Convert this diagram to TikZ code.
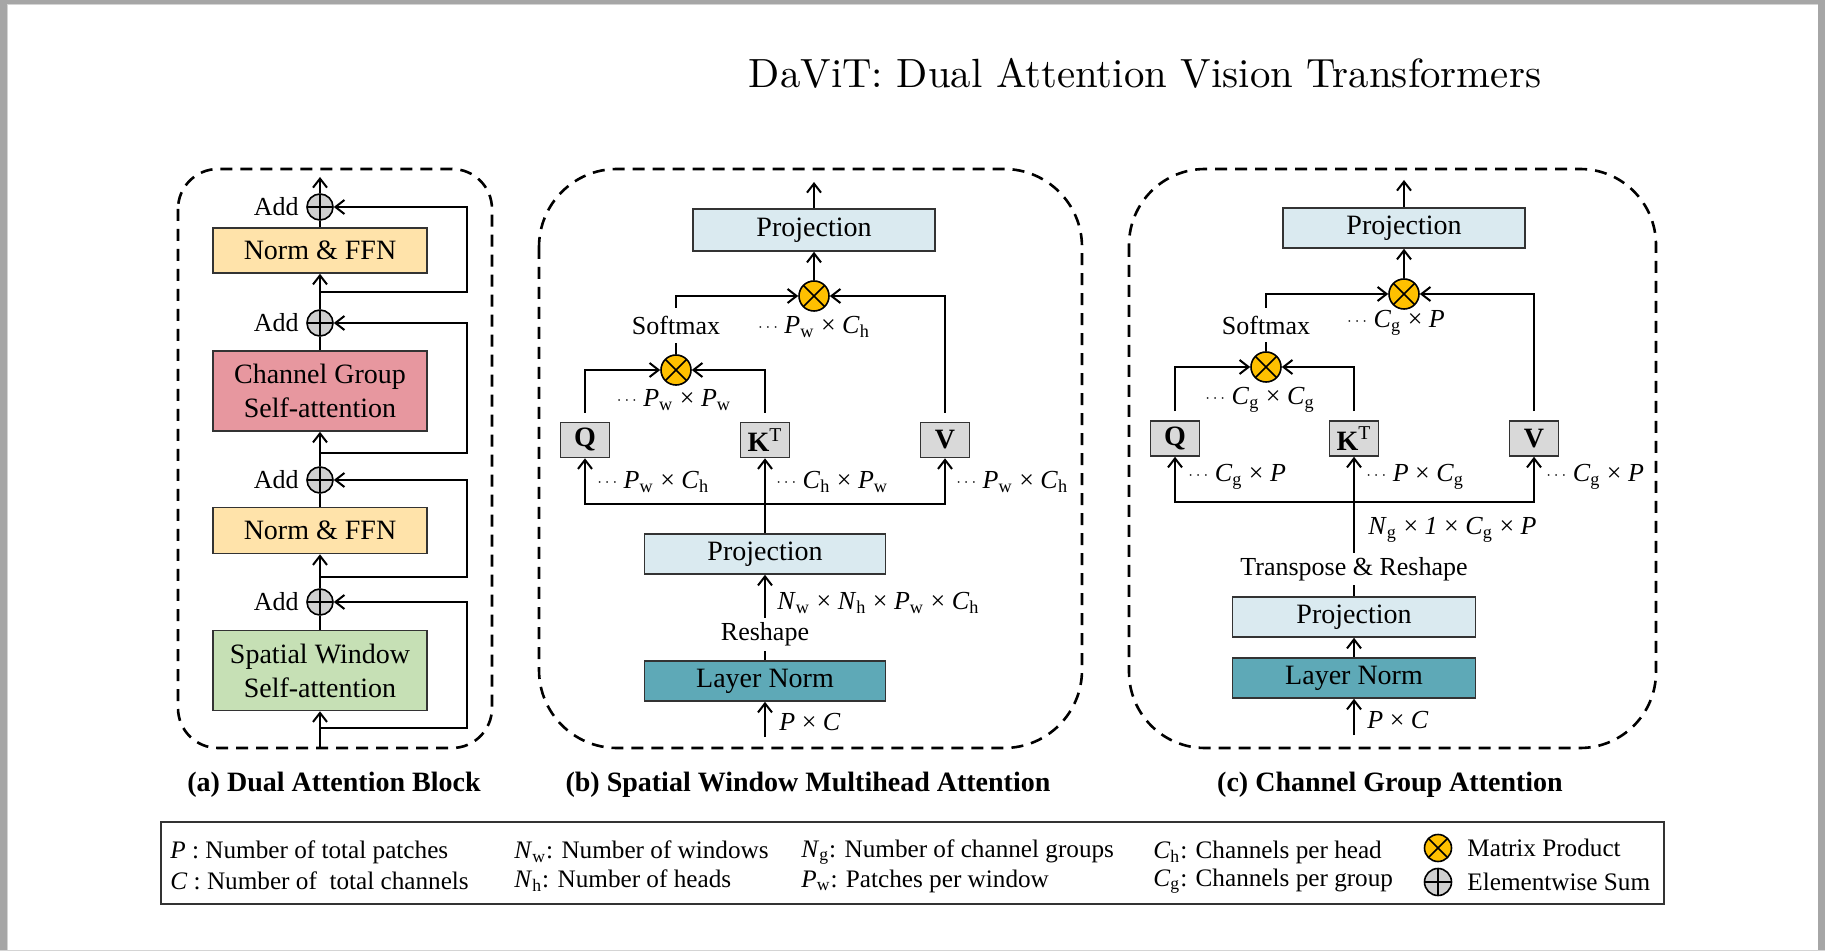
\documentclass[tikz,border=0pt]{standalone}
\usepackage{fontspec}
\setmainfont{Liberation Serif}
\newfontfamily\titlefont{lmroman10-regular.otf}
\usetikzlibrary{arrows.meta}

\definecolor{ffnfill}{HTML}{FFE3AA}
\definecolor{cgfill}{HTML}{E7979F}
\definecolor{swfill}{HTML}{C6E0B5}
\definecolor{projfill}{HTML}{DAEAF0}
\definecolor{lnfill}{HTML}{5EA9B7}
\definecolor{qkvfill}{HTML}{D9D9D9}
\definecolor{mulfill}{HTML}{FFC000}
\definecolor{addfill}{HTML}{D0D0D0}
\definecolor{edgegray}{HTML}{333333}
\definecolor{framegray}{HTML}{A6A6A6}
\definecolor{framelight}{HTML}{D4D4D4}

% variable with upright subscript, e.g. P_w
\newcommand{\mv}[2]{\textit{#1}\textsubscript{#2}}
% small centred ellipsis in front of a shape
\newcommand{\dd}{\raisebox{1pt}{\fontsize{8}{8}\selectfont$\cdots$}}

\begin{document}
\begin{tikzpicture}[x=0.5pt,y=-0.5pt,
  wire/.style={line width=1pt, draw=black},
  arrw/.style={wire, -{Straight Barb[length=4.5pt,width=7pt,line width=1pt]}},
  blockbox/.style={draw=edgegray, line width=0.8pt, inner sep=0pt, align=center,
    font=\fontsize{14}{17}\selectfont},
  qkv/.style={draw=edgegray, line width=0.8pt, fill=qkvfill, inner sep=0pt,
    minimum width=24.5pt, minimum height=17.5pt, font=\bfseries\fontsize{14}{17}\selectfont},
  mulop/.style={circle, draw=black, line width=0.8pt, fill=mulfill, minimum size=15pt, inner sep=0pt,
    path picture={\draw[line width=0.8pt]
      (path picture bounding box.north west) -- (path picture bounding box.south east)
      (path picture bounding box.north east) -- (path picture bounding box.south west);}},
  addop/.style={circle, draw=black, line width=0.8pt, fill=addfill, minimum size=13pt, inner sep=0pt,
    path picture={\draw[line width=0.8pt]
      (path picture bounding box.north) -- (path picture bounding box.south)
      (path picture bounding box.west) -- (path picture bounding box.east);}},
  opl/.style={inner sep=0pt, font=\fontsize{13}{15}\selectfont},
  dimtxt/.style={inner sep=0pt, font=\fontsize{13}{16}\selectfont},
  captxt/.style={inner sep=0pt, font=\bfseries\fontsize{14}{17}\selectfont},
  legtxt/.style={inner sep=0pt, anchor=west, font=\fontsize{12.6}{15}\selectfont},
  dbox/.style={line width=1.3pt, dash pattern=on 6pt off 4pt},
]
\useasboundingbox (0,0) rectangle (1825,951);

% page frame
\fill[framegray] (0,0) rectangle (1825,4);
\fill[framegray] (0,0) rectangle (7,951);
\fill[framegray] (1818,0) rectangle (1825,951);
\fill[framelight] (7,4) rectangle (1818,5);
\fill[framelight] (7,4) rectangle (8,951);
\fill[framelight] (0,949.5) rectangle (1825,951);

% title
\node[font=\titlefont\fontsize{20.4}{24}\selectfont, anchor=base, inner sep=0pt] (title) at (1145,88)
  {DaViT: Dual Attention Vision Transformers};

% ---------------- (a) Dual Attention Block ----------------
\draw[dbox, rounded corners=20pt] (178,169) rectangle (492,748);
\node[blockbox, fill=ffnfill, minimum width=107pt, minimum height=22.5pt] (ffnA) at (320,250.5) {Norm \& FFN};
\node[blockbox, fill=cgfill, minimum width=107pt, minimum height=40pt] (cgA) at (320,391) {Channel Group\\Self-attention};
\node[blockbox, fill=ffnfill, minimum width=107pt, minimum height=23pt] (ffnB) at (320,530.5) {Norm \& FFN};
\node[blockbox, fill=swfill, minimum width=107pt, minimum height=40pt] (swA) at (320,670.5) {Spatial Window\\Self-attention};
\node[addop] (add1) at (320,207) {};
\node[addop] (add2) at (320,323) {};
\node[addop] (add3) at (320,480) {};
\node[addop] (add4) at (320,602) {};
\node[opl, anchor=east] (addl1) at (299,207) {Add};
\node[opl, anchor=east] (addl2) at (299,323) {Add};
\node[opl, anchor=east] (addl3) at (299,480) {Add};
\node[opl, anchor=east] (addl4) at (299,602) {Add};
\coordinate (inA) at (320,748);
\coordinate (outA) at (320,177);
\coordinate (tapA1) at (320,292);
\coordinate (tapA2) at (320,453);
\coordinate (tapA3) at (320,577);
\coordinate (tapA4) at (320,728);
\draw[arrw] (inA) -- (swA.south);
\draw[wire] (swA.north) -- (add4.south);
\draw[arrw] (add4.north) -- (ffnB.south);
\draw[wire] (ffnB.north) -- (add3.south);
\draw[arrw] (add3.north) -- (cgA.south);
\draw[wire] (cgA.north) -- (add2.south);
\draw[arrw] (add2.north) -- (ffnA.south);
\draw[wire] (ffnA.north) -- (add1.south);
\draw[arrw] (add1.north) -- (outA);
\draw[arrw] (tapA4) -- ++(147,0) |- (add4.east);
\draw[arrw] (tapA3) -- ++(147,0) |- (add3.east);
\draw[arrw] (tapA2) -- ++(147,0) |- (add2.east);
\draw[arrw] (tapA1) -- ++(147,0) |- (add1.east);
\node[captxt] (capA) at (334,785) {(a) Dual Attention Block};

% ---------------- (b) Spatial Window Multihead Attention ----------------
\draw[dbox, rounded corners=39pt] (539,169) rectangle (1082,748);
\node[blockbox, fill=projfill, minimum width=121pt, minimum height=21pt] (projB1) at (814,230) {Projection};
\coordinate (outB) at (814,182);
\node[mulop] (mB1) at (814,296) {};
\node[dimtxt] (dB1) at (814,327) {\dd\ \mv{P}{w} × \mv{C}{h}};
\node[opl, minimum height=17.5pt] (smB) at (676,325.5) {Softmax};
\node[mulop] (mB2) at (676,370) {};
\node[dimtxt] (dB2) at (674,400) {\dd\ \mv{P}{w} × \mv{P}{w}};
\node[qkv] (qB) at (585,440) {Q};
\node[qkv] (kB) at (765,440) {K\textsuperscript{\mdseries T}};
\node[qkv] (vB) at (945,440) {V};
\draw[arrw, shorten <=4.5pt] (qB.north) |- (mB2.west);
\draw[arrw, shorten <=4.5pt] (kB.north) |- (mB2.east);
\draw[arrw, shorten <=4.5pt] (vB.north) |- (mB1.east);
\draw[wire] (mB2.north) -- (smB.south);
\draw[arrw] (smB.north) |- (mB1.west);
\draw[arrw] (mB1.north) -- (projB1.south);
\draw[arrw] (projB1.north) -- (outB);
\node[blockbox, fill=projfill, minimum width=120.5pt, minimum height=20pt] (projB2) at (765,554) {Projection};
\coordinate (busB) at (765,504);
\draw[arrw] (projB2.north) -- (kB.south);
\draw[arrw] (busB) -| (qB.south);
\draw[arrw] (busB) -| (vB.south);
\node[dimtxt, anchor=west] (dQB) at (597,482) {\dd\ \mv{P}{w} × \mv{C}{h}};
\node[dimtxt, anchor=west] (dKB) at (776,482) {\dd\ \mv{C}{h} × \mv{P}{w}};
\node[dimtxt, anchor=west] (dVB) at (956,482) {\dd\ \mv{P}{w} × \mv{C}{h}};
\node[opl, minimum height=16.5pt] (rsB) at (765,634.5) {Reshape};
\node[blockbox, fill=lnfill, minimum width=120.5pt, minimum height=20pt] (lnB) at (765,681) {Layer Norm};
\draw[wire] (lnB.north) -- (rsB.south);
\draw[arrw] (rsB.north) -- (projB2.south);
\node[dimtxt, anchor=west] (shpB) at (777,603) {\mv{N}{w} × \mv{N}{h} × \mv{P}{w} × \mv{C}{h}};
\coordinate (inB) at (765,737);
\draw[arrw] (inB) -- (lnB.south);
\node[dimtxt, anchor=west] (pcB) at (779,722) {\textit{P} × \textit{C}};
\node[captxt] (capB) at (808,785) {(b) Spatial Window Multihead Attention};

% ---------------- (c) Channel Group Attention ----------------
\draw[dbox, rounded corners=38pt] (1129,169) rectangle (1656,748);
\node[blockbox, fill=projfill, minimum width=121pt, minimum height=20pt] (projC1) at (1404,228) {Projection};
\coordinate (outC) at (1404,180);
\node[mulop] (mC1) at (1404,294) {};
\node[dimtxt] (dC1) at (1396,323) {\dd\ \mv{C}{g} × \textit{P}};
\node[opl, minimum height=17pt] (smC) at (1266,325) {Softmax};
\node[mulop] (mC2) at (1266,367) {};
\node[dimtxt] (dC2) at (1260,400) {\dd\ \mv{C}{g} × \mv{C}{g}};
\node[qkv] (qC) at (1175,438.5) {Q};
\node[qkv] (kC) at (1354,438.5) {K\textsuperscript{\mdseries T}};
\node[qkv] (vC) at (1534,438.5) {V};
\draw[arrw, shorten <=4.5pt] (qC.north) |- (mC2.west);
\draw[arrw, shorten <=4.5pt] (kC.north) |- (mC2.east);
\draw[arrw, shorten <=4.5pt] (vC.north) |- (mC1.east);
\draw[wire] (mC2.north) -- (smC.south);
\draw[arrw] (smC.north) |- (mC1.west);
\draw[arrw] (mC1.north) -- (projC1.south);
\draw[arrw] (projC1.north) -- (outC);
\node[opl, minimum height=16pt] (trC) at (1354,569) {Transpose \& Reshape};
\coordinate (busC) at (1354,502);
\draw[arrw] (trC.north) -- (kC.south);
\draw[arrw] (busC) -| (qC.south);
\draw[arrw] (busC) -| (vC.south);
\node[dimtxt, anchor=west] (dQC) at (1188,477) {\dd\ \mv{C}{g} × \textit{P}};
\node[dimtxt, anchor=west] (dKC) at (1366,477) {\dd\ \textit{P} × \mv{C}{g}};
\node[dimtxt, anchor=west] (dVC) at (1546,477) {\dd\ \mv{C}{g} × \textit{P}};
\node[dimtxt, anchor=west] (shpC) at (1368,530) {\mv{N}{g} × \textit{1} × \mv{C}{g} × \textit{P}};
\node[blockbox, fill=projfill, minimum width=121.5pt, minimum height=20pt] (projC2) at (1354,617) {Projection};
\node[blockbox, fill=lnfill, minimum width=121.5pt, minimum height=20pt] (lnC) at (1354,678) {Layer Norm};
\draw[wire] (projC2.north) -- (trC.south);
\draw[arrw] (lnC.north) -- (projC2.south);
\coordinate (inC) at (1354,735);
\draw[arrw] (inC) -- (lnC.south);
\node[dimtxt, anchor=west] (pcC) at (1367,720) {\textit{P} × \textit{C}};
\node[captxt] (capC) at (1390,785) {(c) Channel Group Attention};

% ---------------- legend ----------------
\draw[line width=0.7pt, draw=edgegray] (161,822) rectangle (1664,904);
\node[legtxt] (lgP) at (170,852) {\textit{P} : Number of total patches};
\node[legtxt] (lgC) at (170,881) {\textit{C} : Number of\ \ total channels};
\node[legtxt] (lgNw) at (514,852) {\mv{N}{w}: Number of windows};
\node[legtxt] (lgNh) at (514,881) {\mv{N}{h}: Number of heads};
\node[legtxt] (lgNg) at (801,852) {\mv{N}{g}: Number of channel groups};
\node[legtxt] (lgPw) at (801,881) {\mv{P}{w}: Patches per window};
\node[legtxt] (lgCh) at (1153,852) {\mv{C}{h}: Channels per head};
\node[legtxt] (lgCg) at (1153,881) {\mv{C}{g}: Channels per group};
\node[mulop, minimum size=13.5pt] (lgMul) at (1438,848) {};
\node[addop, minimum size=13.5pt] (lgAdd) at (1438,882) {};
\node[legtxt] (lgMulT) at (1467,848) {Matrix Product};
\node[legtxt] (lgAddT) at (1467,882) {Elementwise Sum};
\end{tikzpicture}
\end{document}
